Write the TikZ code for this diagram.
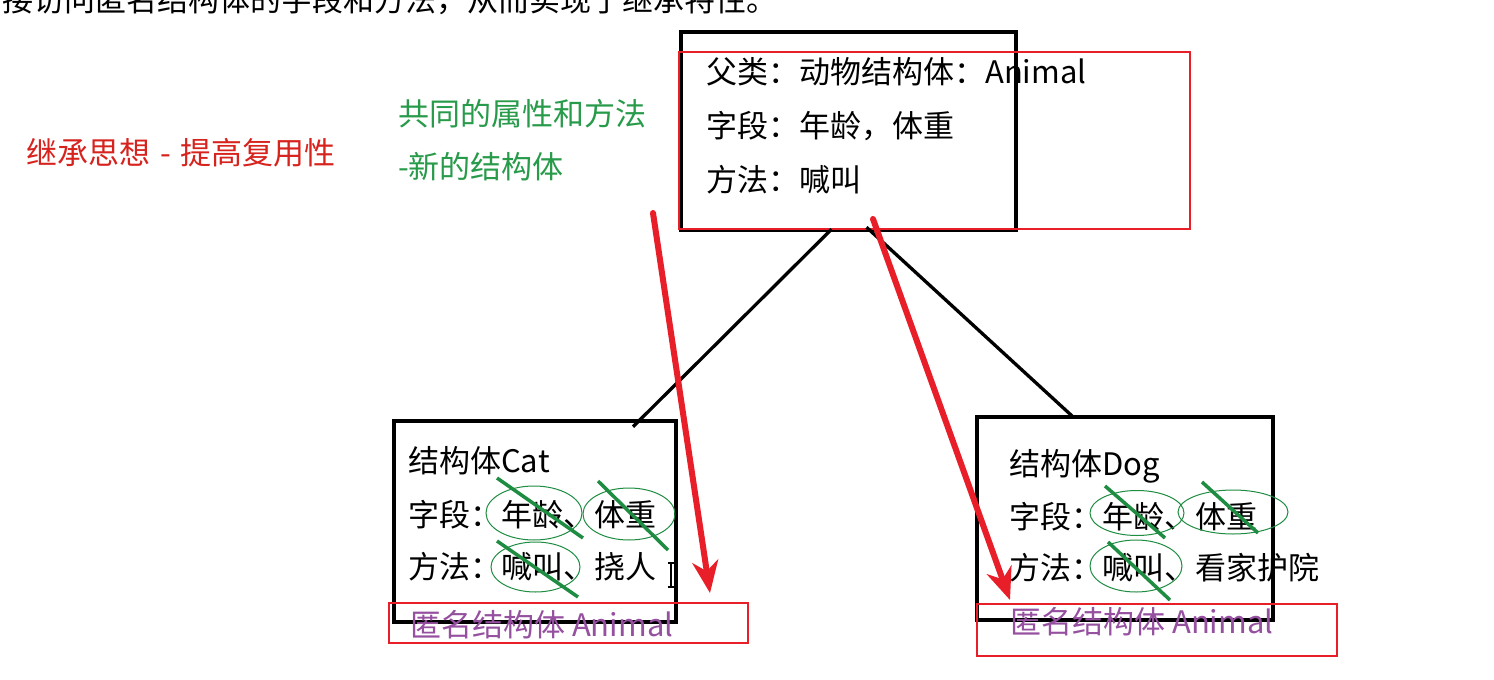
\documentclass[tikz,border=0pt]{standalone}
\usepackage{fontspec}
\setmainfont{Noto Sans CJK SC}
\usetikzlibrary{arrows.meta,shapes.geometric}
\definecolor{myred}{RGB}{232,30,40}
\definecolor{mygreen}{RGB}{30,140,65}
\definecolor{txtgreen}{RGB}{40,155,75}
\definecolor{txtred}{RGB}{215,35,30}
\definecolor{mypurple}{RGB}{150,80,160}
\tikzset{
  blackbox/.style={draw=black, line width=4.5pt, inner sep=0pt},
  redbox/.style={draw=myred, line width=2.8pt, inner sep=0pt},
  txt/.style={anchor=base west, inner sep=0pt, font=\fontsize{31}{36}\selectfont},
  small/.style={anchor=base west, inner sep=0pt, font=\fontsize{31}{36}\selectfont},
  oval/.style={draw=mygreen, line width=1pt, ellipse, inner sep=0pt},
  strike/.style={draw=mygreen, line width=3.5pt},
  link/.style={draw=black, line width=3.3pt},
  redarrow/.style={draw=myred, line width=6pt, -{Stealth[length=32pt,width=26pt,inset=10pt]}},
}
\begin{document}
\begin{tikzpicture}[x=1pt,y=-1pt]
\useasboundingbox (0,0) rectangle (1494,680);
\fill[white] (0,0) rectangle (1494,680);

% cut-off heading line (cut off in the reference too)
\node[txt] (head) at (2,11) {接访问匿名结构体的字段和方法，从而实现了继承特性。};

% left notes
\node[small, text=txtred] (idea) at (26,164) {继承思想\hspace{3pt} - \hspace{3pt}提高复用性};
\node[small, text=txtgreen] (common) at (398,125) {共同的属性和方法};
\node[small, text=txtgreen] (newst) at (398,178) {-新的结构体};

% parent box
\node[blackbox, minimum width=335, minimum height=198] (animal) at (848.5,131) {};
\node[redbox, minimum width=511, minimum height=177] (animalred) at (934.5,140.5) {};
\node[txt] (a1) at (706,83) {父类：动物结构体：Animal};
\node[txt] (a2) at (706,137) {字段：年龄，体重};
\node[txt] (a3) at (706,191) {方法：喊叫};

% Cat box
\node[blackbox, minimum width=282, minimum height=201] (cat) at (535,521.5) {};
\node[txt] (c1) at (408,472) {结构体Cat};
\node[txt] (c2) at (408,526) {字段：年龄、体重};
\node[txt] (c3) at (408,578) {方法：喊叫、挠人};
\node[oval, minimum width=96, minimum height=54] (co1) at (534,513) {};
\node[oval, minimum width=92, minimum height=52] (co2) at (629,514) {};
\node[oval, minimum width=89, minimum height=50] (co3) at (535.5,567) {};
\coordinate (cs1a) at (497,478); \coordinate (cs1b) at (583,538);
\coordinate (cs2a) at (598,481); \coordinate (cs2b) at (668,550);
\coordinate (cs3a) at (497,541); \coordinate (cs3b) at (578,597);
\draw[strike] (cs1a) -- (cs1b);
\draw[strike] (cs2a) -- (cs2b);
\draw[strike] (cs3a) -- (cs3b);
\node[txt, text=mypurple] (canon) at (410,636) {匿名结构体 Animal};
\node[redbox, minimum width=359, minimum height=40] (catred) at (568.5,623) {};

% text cursor
\coordinate (cur) at (671,575);
\draw[white, line width=3pt] ([yshift=-12]cur) -- ([yshift=12]cur);
\draw[black, line width=1.3pt] ([yshift=-12]cur) -- ([yshift=12]cur)
  ([xshift=-3,yshift=-12]cur) -- ([xshift=3,yshift=-12]cur)
  ([xshift=-3,yshift=12]cur) -- ([xshift=3,yshift=12]cur);

% Dog box
\node[blackbox, minimum width=296, minimum height=203] (dog) at (1125,518.5) {};
\node[txt] (d1) at (1009,475) {结构体Dog};
\node[txt] (d2) at (1009,528) {字段：年龄、体重};
\node[txt] (d3) at (1009,579) {方法：喊叫、看家护院};
\node[oval, minimum width=94, minimum height=45] (do1) at (1137,513) {};
\node[oval, minimum width=110, minimum height=44] (do2) at (1233,512) {};
\node[oval, minimum width=92, minimum height=52] (do3) at (1136,566) {};
\coordinate (ds1a) at (1105,486); \coordinate (ds1b) at (1165,538);
\coordinate (ds2a) at (1202,482); \coordinate (ds2b) at (1258,533);
\coordinate (ds3a) at (1108,542); \coordinate (ds3b) at (1170,600);
\draw[strike] (ds1a) -- (ds1b);
\draw[strike] (ds2a) -- (ds2b);
\draw[strike] (ds3a) -- (ds3b);
\node[txt, text=mypurple] (danon) at (1010,633) {匿名结构体 Animal};
\node[redbox, minimum width=360, minimum height=52] (dogred) at (1157,630) {};

% inheritance links
\coordinate (l1a) at ([xshift=-17,yshift=3]animal.south);
\coordinate (l1b) at ([xshift=98,yshift=-8]cat.north);
\coordinate (l2a) at ([xshift=18,yshift=5]animal.south);
\coordinate (l2b) at ([xshift=-51,yshift=-3]dog.north);
\draw[link] (l1a) -- (l1b);
\draw[link] (l2a) -- (l2b);

% red arrows
\coordinate (r1a) at (653,213); \coordinate (r1b) at (710,593);
\coordinate (r2a) at (873,219); \coordinate (r2b) at (1010,600);
\draw[redarrow, line cap=round] (r1a) -- (r1b);
\draw[redarrow, line cap=round] (r2a) -- (r2b);
\end{tikzpicture}
\end{document}
